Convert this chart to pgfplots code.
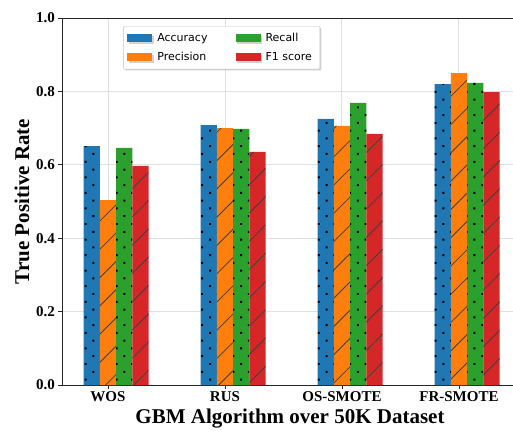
\documentclass[border=0pt]{standalone}
\usepackage{fontspec}
\setmainfont{Liberation Serif}
\newfontfamily\legfont{DejaVu Sans}
\usepackage{pgfplots}
\pgfplotsset{compat=1.18}
\usetikzlibrary{patterns.meta,shadows}
\definecolor{cA}{HTML}{1F77B4}
\definecolor{cP}{HTML}{FF7F0E}
\definecolor{cR}{HTML}{2CA02C}
\definecolor{cF}{HTML}{D62728}
\begin{document}
\begin{tikzpicture}
\begin{axis}[name=ax, scale only axis, width=456pt, height=367pt,
  xmin=-0.393, xmax=3.505, ymin=0, ymax=1,
  xtick={0,1,2,3}, xticklabels={WOS,RUS,OS-SMOTE,FR-SMOTE},
  ytick={0,0.2,0.4,0.6,0.8,1.0},
  /pgf/number format/assume math mode=true,
  yticklabel style={/pgf/number format/.cd, fixed, fixed zerofill, precision=1, assume math mode=true},
  ticklabel style={font=\fontsize{15}{15}\selectfont\bfseries},
  xlabel={GBM Algorithm over 50K Dataset}, ylabel={True Positive Rate},
  label style={font=\fontsize{21}{21}\selectfont\bfseries},
  grid=major, major grid style={draw=gray!25, line width=0.9pt},
  axis line style={black!85, line width=0.9pt},
  tick align=outside, major tick length=3.5pt, xtick pos=bottom, ytick pos=left,
  tick style={black!85, line width=0.8pt},
  legend columns=2, legend cell align=left,
  legend style={at={(0.134,0.978)}, anchor=north west,
    font=\legfont\fontsize{11}{11}\selectfont, draw=gray!50, fill=white,
    rounded corners=1pt, drop shadow={shadow xshift=1.5pt, shadow yshift=-1.5pt, fill=gray!70},
    inner xsep=4pt, inner ysep=5pt, row sep=5pt},
  legend image code/.code={\fill[#1, draw=none, sharp corners] (0pt,-4pt) rectangle (25pt,4pt);},
]
\addplot[ybar, bar width=0.139, bar shift=-0.139, fill=cA, draw=none, forget plot,
  postaction={pattern={Dots[radius=1.4pt, distance=11pt, angle=45]}, pattern color=black}]
  coordinates {(0,0.651) (1,0.708) (2,0.725) (3,0.820)};
\addplot[ybar, bar width=0.139, bar shift=0, fill=cP, draw=none, forget plot,
  postaction={pattern={Lines[angle=45, distance=20pt, line width=0.8pt]}, pattern color=black!75}]
  coordinates {(0,0.504) (1,0.700) (2,0.706) (3,0.850)};
\addplot[ybar, bar width=0.139, bar shift=0.139, fill=cR, draw=none, forget plot,
  postaction={pattern={Dots[radius=1.4pt, distance=11pt, angle=45]}, pattern color=black}]
  coordinates {(0,0.646) (1,0.698) (2,0.769) (3,0.823)};
\addplot[ybar, bar width=0.139, bar shift=0.278, fill=cF, draw=none, forget plot,
  postaction={pattern={Lines[angle=45, distance=20pt, line width=0.8pt]}, pattern color=black!75}]
  coordinates {(0,0.597) (1,0.635) (2,0.684) (3,0.798)};
\addlegendimage{fill=cA, draw=none}
\addlegendentry{\kern3pt Accuracy\kern26pt\null}
\addlegendimage{fill=cR, draw=none}
\addlegendentry{\kern3pt Recall\kern8pt\null}
\addlegendimage{fill=cP, draw=none}
\addlegendentry{\kern3pt Precision\kern26pt\null}
\addlegendimage{fill=cF, draw=none}
\addlegendentry{\kern3pt F1 score\kern2pt\null}
\end{axis}
\pgfresetboundingbox
\path[use as bounding box] ([xshift=-62pt,yshift=-49pt]ax.south west) rectangle ([xshift=451pt,yshift=385pt]ax.south west);
\end{tikzpicture}
\end{document}
